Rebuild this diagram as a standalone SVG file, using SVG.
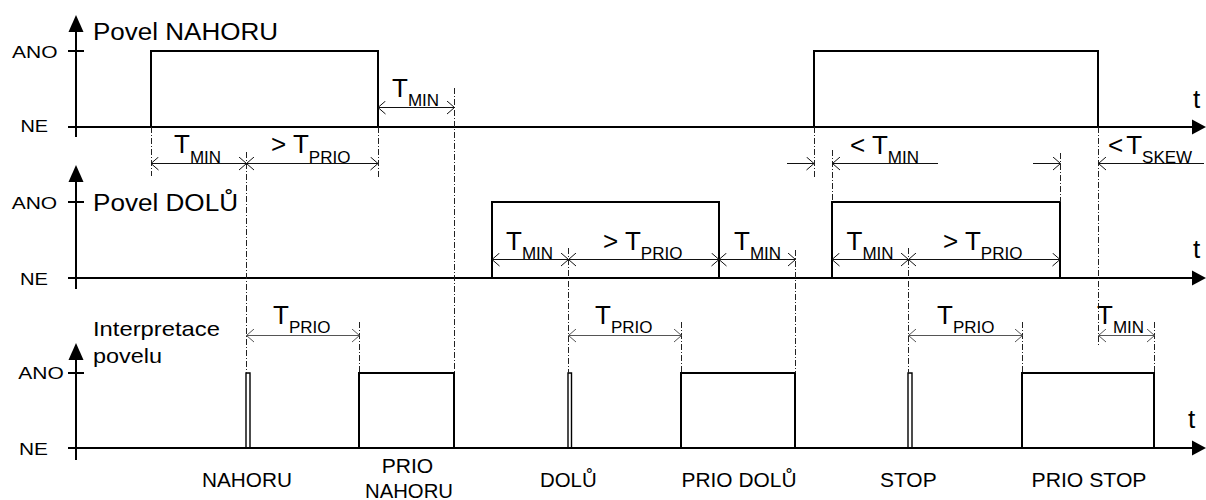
<svg xmlns="http://www.w3.org/2000/svg" width="1206" height="500" viewBox="0 0 1206 500">
<style>
.ax{stroke:#000;stroke-width:2;fill:none}
.sig{stroke:#000;stroke-width:2;fill:none}
.nar{stroke:#000;stroke-width:1.4;fill:none}
.dim{stroke:#111;stroke-width:1;fill:none}
.dimg{stroke:#555;stroke-width:1;fill:none}
.guide{stroke:#222;stroke-width:1;stroke-dasharray:6 2 1 2;fill:none}
.head{fill:#000;stroke:none}
text{font-family:"Liberation Sans",Arial,sans-serif;fill:#000}
.lvl{font-size:17px}
.ttl{font-size:23px}
.T{font-size:26px}
.sub{font-size:17px}
.lab{font-size:20px}
.t{font-size:26px}
</style>
<defs>
<marker id="oa" viewBox="0 0 10 14" refX="9" refY="7" markerWidth="10" markerHeight="14" markerUnits="userSpaceOnUse" orient="auto-start-reverse"><path d="M1.5,0.5 L9,7 L1.5,13.5" fill="none" stroke="#111" stroke-width="1"/></marker>
<marker id="oag" viewBox="0 0 10 14" refX="9" refY="7" markerWidth="10" markerHeight="14" markerUnits="userSpaceOnUse" orient="auto-start-reverse"><path d="M1.5,0.5 L9,7 L1.5,13.5" fill="none" stroke="#555" stroke-width="1"/></marker>
</defs>

<g id="chart-nahoru">
<line class="ax" x1="76" y1="30" x2="76" y2="137"/>
<polygon class="head" points="76,15 68.5,32 83.5,32"/>
<line class="ax" x1="68" y1="127" x2="1194" y2="127"/>
<polygon class="head" points="1206,127 1192,119.5 1192,134.5"/>
<line class="ax" x1="68" y1="51" x2="84" y2="51"/>
<text class="lvl" x="12" y="57.5" textLength="45.5" lengthAdjust="spacingAndGlyphs">ANO</text>
<text class="lvl" x="20.5" y="132" textLength="27.6" lengthAdjust="spacingAndGlyphs">NE</text>
<text class="ttl" x="93" y="39.5" textLength="185" lengthAdjust="spacingAndGlyphs">Povel NAHORU</text>
<text class="t" x="1193" y="108">t</text>
<path class="sig" d="M151,127 V51 H378 V127"/>
<path class="sig" d="M814,127 V51 H1098 V127"/>
</g>

<g id="chart-dolu">
<line class="ax" x1="76" y1="180" x2="76" y2="289"/>
<polygon class="head" points="76,165 68.5,182 83.5,182"/>
<line class="ax" x1="68" y1="278" x2="1194" y2="278"/>
<polygon class="head" points="1206,278 1192,270.5 1192,285.5"/>
<line class="ax" x1="68" y1="202" x2="84" y2="202"/>
<text class="lvl" x="11.7" y="208.5" textLength="45.5" lengthAdjust="spacingAndGlyphs">ANO</text>
<text class="lvl" x="20" y="284.5" textLength="28" lengthAdjust="spacingAndGlyphs">NE</text>
<text class="ttl" x="93" y="211" textLength="145" lengthAdjust="spacingAndGlyphs">Povel DOLŮ</text>
<text class="t" x="1193" y="258">t</text>
<path class="sig" d="M492,278 V202 H719 V278"/>
<path class="sig" d="M832,278 V202 H1060 V278"/>
</g>

<g id="chart-interpretace">
<line class="ax" x1="76" y1="358" x2="76" y2="460"/>
<polygon class="head" points="76,343 68.5,360 83.5,360"/>
<line class="ax" x1="68" y1="448" x2="1194" y2="448"/>
<polygon class="head" points="1206,448 1192,440.5 1192,455.5"/>
<line class="ax" x1="68" y1="373" x2="84" y2="373"/>
<text class="lvl" x="18.3" y="378.5" textLength="45.5" lengthAdjust="spacingAndGlyphs">ANO</text>
<text class="lvl" x="19" y="455" textLength="29" lengthAdjust="spacingAndGlyphs">NE</text>
<text x="93" y="336" textLength="127" lengthAdjust="spacingAndGlyphs" style="font-size:21px">Interpretace</text>
<text x="93" y="362.5" textLength="69" lengthAdjust="spacingAndGlyphs" style="font-size:21px">povelu</text>
<text class="t" x="1188" y="428">t</text>
<path class="nar" d="M246,448 V373 H250 V448"/>
<path class="sig" d="M359,448 V373 H454 V448"/>
<path class="nar" d="M568,448 V373 H571.5 V448"/>
<path class="sig" d="M681,448 V373 H795 V448"/>
<path class="nar" d="M908,448 V373 H912 V448"/>
<path class="sig" d="M1022,448 V373 H1154 V448"/>
</g>

<g id="states">
<text class="lab" x="247" y="486.5" text-anchor="middle" textLength="90" lengthAdjust="spacingAndGlyphs">NAHORU</text>
<text class="lab" x="407.5" y="473" text-anchor="middle" textLength="51.6" lengthAdjust="spacingAndGlyphs">PRIO</text>
<text class="lab" x="409" y="498" text-anchor="middle" textLength="88" lengthAdjust="spacingAndGlyphs">NAHORU</text>
<text class="lab" x="568.3" y="486.5" text-anchor="middle" textLength="56.7" lengthAdjust="spacingAndGlyphs">DOLŮ</text>
<text class="lab" x="739" y="486.5" text-anchor="middle" textLength="115" lengthAdjust="spacingAndGlyphs">PRIO DOLŮ</text>
<text class="lab" x="908.3" y="486.5" text-anchor="middle" textLength="56.7" lengthAdjust="spacingAndGlyphs">STOP</text>
<text class="lab" x="1089" y="486.5" text-anchor="middle" textLength="115" lengthAdjust="spacingAndGlyphs">PRIO STOP</text>
</g>

<g id="connectors">
<g id="guides">
<line class="guide" x1="151.5" y1="127" x2="151.5" y2="176"/>
<line class="guide" x1="246.5" y1="152" x2="246.5" y2="373"/>
<line class="guide" x1="378.5" y1="127" x2="378.5" y2="177"/>
<line class="guide" x1="454.5" y1="88" x2="454.5" y2="373"/>
<line class="guide" x1="568.5" y1="248" x2="568.5" y2="373"/>
<line class="guide" x1="795.5" y1="250" x2="795.5" y2="373"/>
<line class="guide" x1="814.5" y1="127" x2="814.5" y2="178"/>
<line class="guide" x1="832.5" y1="150" x2="832.5" y2="202"/>
<line class="guide" x1="908.5" y1="248" x2="908.5" y2="373"/>
<line class="guide" x1="1060.5" y1="153" x2="1060.5" y2="202"/>
<line class="guide" x1="1098.5" y1="127" x2="1098.5" y2="347"/>
<line class="guide" x1="359.5" y1="322" x2="359.5" y2="373"/>
<line class="guide" x1="681.5" y1="322" x2="681.5" y2="373"/>
<line class="guide" x1="1022.5" y1="322" x2="1022.5" y2="373"/>
<line class="guide" x1="1154.5" y1="322" x2="1154.5" y2="373"/>
</g>
<g id="dimensions">
<line class="dim" x1="151" y1="163.5" x2="246.5" y2="163.5" marker-start="url(#oa)" marker-end="url(#oa)"/>
<line class="dim" x1="246.5" y1="163.5" x2="378" y2="163.5" marker-start="url(#oa)" marker-end="url(#oa)"/>
<line class="dim" x1="378" y1="107.5" x2="454.5" y2="107.5" marker-start="url(#oa)" marker-end="url(#oa)"/>
<line class="dim" x1="787" y1="163.5" x2="814" y2="163.5" marker-end="url(#oa)"/>
<line class="dim" x1="938" y1="163.5" x2="832.5" y2="163.5" marker-end="url(#oa)"/>
<line class="dim" x1="1033" y1="163.5" x2="1060.5" y2="163.5" marker-end="url(#oa)"/>
<line class="dim" x1="1204" y1="163.5" x2="1098.5" y2="163.5" marker-end="url(#oa)"/>
<line class="dim" x1="492" y1="259.5" x2="568.5" y2="259.5" marker-start="url(#oa)" marker-end="url(#oa)"/>
<line class="dim" x1="568.5" y1="259.5" x2="719" y2="259.5" marker-start="url(#oa)" marker-end="url(#oa)"/>
<line class="dim" x1="719" y1="259.5" x2="795.5" y2="259.5" marker-start="url(#oa)" marker-end="url(#oa)"/>
<line class="dim" x1="832" y1="259.5" x2="908.5" y2="259.5" marker-start="url(#oa)" marker-end="url(#oa)"/>
<line class="dim" x1="908.5" y1="259.5" x2="1060" y2="259.5" marker-start="url(#oa)" marker-end="url(#oa)"/>
<line class="dimg" x1="246.5" y1="335.5" x2="359.5" y2="335.5" marker-start="url(#oag)" marker-end="url(#oag)"/>
<line class="dimg" x1="568.5" y1="335.5" x2="681.5" y2="335.5" marker-start="url(#oag)" marker-end="url(#oag)"/>
<line class="dimg" x1="908.5" y1="335.5" x2="1022.5" y2="335.5" marker-start="url(#oag)" marker-end="url(#oag)"/>
<line class="dimg" x1="1098.5" y1="335.5" x2="1154.5" y2="335.5" marker-start="url(#oag)" marker-end="url(#oag)"/>
</g>
<g id="dim-labels">
<text class="T" x="174" y="153">T<tspan class="sub" dy="9.5">MIN</tspan></text>
<text class="T" x="271" y="153">&gt; T<tspan class="sub" dy="9.5">PRIO</tspan></text>
<text class="T" x="392" y="97">T<tspan class="sub" dy="9">MIN</tspan></text>
<text class="T" x="850" y="154">&lt; T<tspan class="sub" dy="9">MIN</tspan></text>
<text class="T" x="1108" y="154">&lt;<tspan dx="3">T</tspan><tspan class="sub" dy="9">SKEW</tspan></text>
<text class="T" x="506" y="249.5">T<tspan class="sub" dy="9">MIN</tspan></text>
<text class="T" x="603" y="249.5">&gt; T<tspan class="sub" dy="9">PRIO</tspan></text>
<text class="T" x="734" y="249.5">T<tspan class="sub" dy="9">MIN</tspan></text>
<text class="T" x="846.5" y="249.5">T<tspan class="sub" dy="9">MIN</tspan></text>
<text class="T" x="943" y="249.5">&gt; T<tspan class="sub" dy="9">PRIO</tspan></text>
<text class="T" x="273" y="323.5">T<tspan class="sub" dy="9.5">PRIO</tspan></text>
<text class="T" x="595" y="323.5">T<tspan class="sub" dy="9.5">PRIO</tspan></text>
<text class="T" x="937" y="323.5">T<tspan class="sub" dy="9.5">PRIO</tspan></text>
<text class="T" x="1097" y="323.5">T<tspan class="sub" dy="9.5">MIN</tspan></text>
</g>
</g>
</svg>
